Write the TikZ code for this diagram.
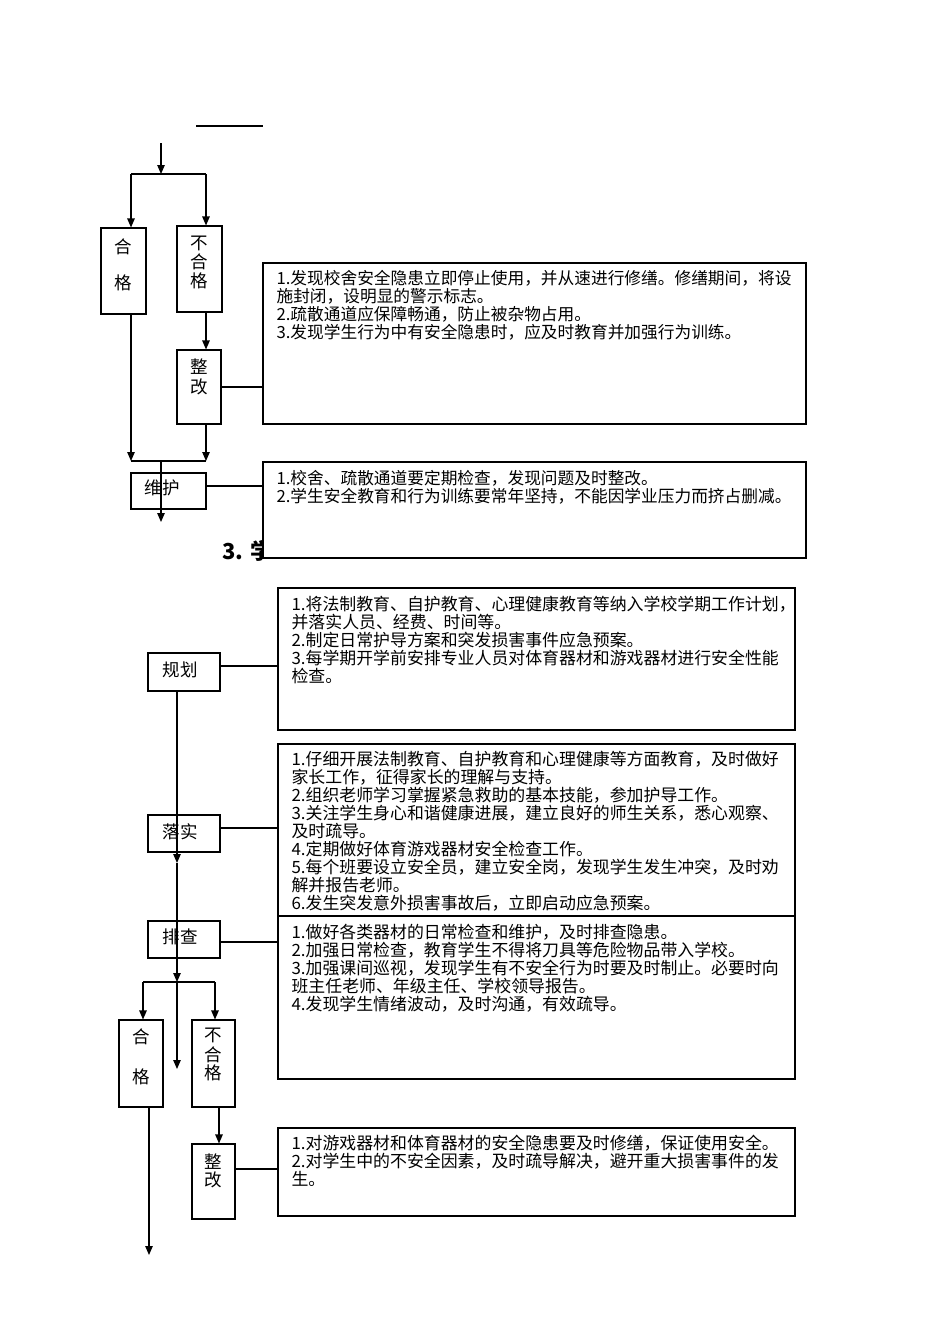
\documentclass[tikz,border=0pt]{standalone}
\usepackage{fontspec}
\setmainfont{Liberation Serif}
\newfontfamily\cjk{Noto Sans CJK SC}
\usetikzlibrary{arrows.meta}
\begin{document}
\begin{tikzpicture}[x=1pt,y=-1pt,line width=1.1pt,
  box/.style={draw,line width=1.1pt,fill=white,inner sep=0pt,rectangle},
  txtA/.style={anchor=north west,inner sep=0pt,align=left,font=\cjk\fontsize{16.7}{18}\selectfont},
  txtB/.style={anchor=north west,inner sep=0pt,align=left,font=\cjk\fontsize{16.9}{18}\selectfont},
  lbl/.style={inner sep=0pt,font=\cjk\fontsize{17.5}{18}\selectfont},
  arr/.style={-{Triangle[length=9pt,width=7.5pt]}}]
\useasboundingbox (0,0) rectangle (950,1344);

% ---------- upper part ----------
\coordinate (ul1) at (196,126);
\coordinate (ul2) at (263,126);
\draw (ul1) -- (ul2);

\node[anchor=base west,inner sep=0pt,font=\cjk\bfseries\fontsize{22}{24}\selectfont] (head) at (222,559) {3. 学};

\node[box,minimum width=45pt,minimum height=86pt] (hg1) at (123.5,271) {};
\node[box,minimum width=45pt,minimum height=86pt] (bhg1) at (199.5,269) {};
\node[box,minimum width=44pt,minimum height=74pt] (zg1) at (199,387) {};
\node[box,minimum width=75pt,minimum height=36pt] (wh) at (168.5,491) {};
\node[box,minimum width=543pt,minimum height=161pt] (t1) at (534.5,343.5) {};
\node[box,minimum width=543pt,minimum height=96pt] (t2) at (534.5,510) {};

\node[lbl] (hg1a) at (123.5,247) {合};
\node[lbl] (hg1b) at (123.5,283) {格};
\node[lbl] (bhg1a) at (199.5,243) {不};
\node[lbl] (bhg1b) at (199.5,262) {合};
\node[lbl] (bhg1c) at (199.5,281) {格};
\node[lbl] (zg1a) at (199,367) {整};
\node[lbl] (zg1b) at (199,387) {改};
\node[lbl] (whl) at (162,488) {维护};

\node[txtA] (t1txt) at (276,269.5) {1.发现校舍安全隐患立即停止使用，并从速进行修缮。修缮期间，将设\\
施封闭，设明显的警示标志。\\
2.疏散通道应保障畅通，防止被杂物占用。\\
3.发现学生行为中有安全隐患时，应及时教育并加强行为训练。};
\node[txtA] (t2txt) at (276,469.5) {1.校舍、疏散通道要定期检查，发现问题及时整改。\\
2.学生安全教育和行为训练要常年坚持，不能因学业压力而挤占删减。};

\coordinate (top) at (161,143);
\coordinate (s1) at (161,174);
\coordinate (s1l) at (131,174);
\coordinate (s1r) at (206,174);
\coordinate (j1l) at (131,461);
\coordinate (j1r) at (206,461);
\coordinate (j1c) at (161,461);
\coordinate (end1) at (161,522);

\draw[arr] (top) -- (s1);
\draw (s1l) -- (s1r);
\draw[arr] (s1l) -- (s1l |- hg1.north);
\draw[arr] (s1r) -- (s1r |- bhg1.north);
\draw[arr] (bhg1.south -| s1r) -- (zg1.north -| s1r);
\draw (zg1.east) -- (zg1.east -| t1.west);
\draw[arr] (hg1.south -| j1l) -- (j1l);
\draw[arr] (zg1.south -| j1r) -- (j1r);
\draw (j1l) -- (j1r);
\draw[arr] (j1c) -- (end1);
\draw (wh.east |- 0,486) -- (t2.west |- 0,486);

% ---------- lower part ----------
\node[box,minimum width=72pt,minimum height=38pt] (gh) at (184,672) {};
\node[box,minimum width=72pt,minimum height=37pt] (ls) at (184,833.5) {};
\node[box,minimum width=72pt,minimum height=37pt] (pc) at (184,939.5) {};
\node[box,minimum width=44pt,minimum height=87pt] (hg2) at (141,1063.5) {};
\node[box,minimum width=43pt,minimum height=87pt] (bhg2) at (213.5,1063.5) {};
\node[box,minimum width=43pt,minimum height=75pt] (zg2) at (213.5,1181.5) {};
\node[box,minimum width=517pt,minimum height=142pt] (tA) at (536.5,659) {};
\node[box,minimum width=517pt,minimum height=172pt] (tB) at (536.5,830) {};
\node[box,minimum width=517pt,minimum height=163pt] (tC) at (536.5,997.5) {};
\node[box,minimum width=517pt,minimum height=88pt] (tD) at (536.5,1172) {};

\node[lbl] (ghl) at (180,670) {规划};
\node[lbl] (lsl) at (180,832) {落实};
\node[lbl] (pcl) at (180,937) {排查};
\node[lbl] (hg2a) at (141,1037) {合};
\node[lbl] (hg2b) at (141,1077) {格};
\node[lbl] (bhg2a) at (213.5,1035) {不};
\node[lbl] (bhg2b) at (213.5,1055) {合};
\node[lbl] (bhg2c) at (213.5,1073) {格};
\node[lbl] (zg2a) at (213.5,1162) {整};
\node[lbl] (zg2b) at (213.5,1180) {改};

\node[txtB] (tAtxt) at (291,596) {1.将法制教育、自护教育、心理健康教育等纳入学校学期工作计划，\\
并落实人员、经费、时间等。\\
2.制定日常护导方案和突发损害事件应急预案。\\
3.每学期开学前安排专业人员对体育器材和游戏器材进行安全性能\\
检查。};
\node[txtB] (tBtxt) at (291,751) {1.仔细开展法制教育、自护教育和心理健康等方面教育，及时做好\\
家长工作，征得家长的理解与支持。\\
2.组织老师学习掌握紧急救助的基本技能，参加护导工作。\\
3.关注学生身心和谐健康进展，建立良好的师生关系，悉心观察、\\
及时疏导。\\
4.定期做好体育游戏器材安全检查工作。\\
5.每个班要设立安全员，建立安全岗，发现学生发生冲突，及时劝\\
解并报告老师。\\
6.发生突发意外损害事故后，立即启动应急预案。};
\node[txtB] (tCtxt) at (291,924) {1.做好各类器材的日常检查和维护，及时排查隐患。\\
2.加强日常检查，教育学生不得将刀具等危险物品带入学校。\\
3.加强课间巡视，发现学生有不安全行为时要及时制止。必要时向\\
班主任老师、年级主任、学校领导报告。\\
4.发现学生情绪波动，及时沟通，有效疏导。};
\node[txtB] (tDtxt) at (291,1135) {1.对游戏器材和体育器材的安全隐患要及时修缮，保证使用安全。\\
2.对学生中的不安全因素，及时疏导解决，避开重大损害事件的发\\
生。};

\coordinate (a1) at (177,863);
\coordinate (j2c) at (177,982);
\coordinate (j2l) at (143,982);
\coordinate (j2r) at (215,982);
\coordinate (end2) at (177,1069);
\coordinate (end3) at (149,1255);

\draw (gh.east |- 0,666) -- (tA.west |- 0,666);
\draw (ls.east |- 0,828) -- (tB.west |- 0,828);
\draw (pc.east |- 0,942) -- (tC.west |- 0,942);
\draw (zg2.east |- 0,1169) -- (tD.west |- 0,1169);
\draw[arr] (gh.south -| a1) -- (a1);
\draw[arr] (a1) -- (j2c);
\draw[arr] (j2c) -- (end2);
\draw (j2l) -- (j2r);
\draw[arr] (j2l) -- (j2l |- hg2.north);
\draw[arr] (j2r) -- (j2r |- bhg2.north);
\draw[arr] (bhg2.south -| 219,0) -- (zg2.north -| 219,0);
\draw[arr] (hg2.south -| end3) -- (end3);
\end{tikzpicture}
\end{document}
